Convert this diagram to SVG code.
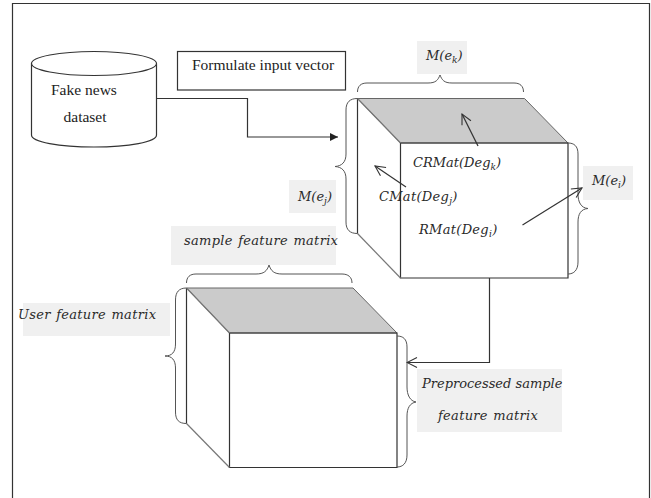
<svg xmlns="http://www.w3.org/2000/svg" width="651" height="498" viewBox="0 0 651 498">
<style>
.l{fill:none;stroke:#333;stroke-width:1.2}
.b{fill:none;stroke:#555;stroke-width:1}
.g{fill:#cbcbcb;stroke:#666;stroke-width:1}
.f{fill:#fff;stroke:#333;stroke-width:1.2}
.s{fill:none;stroke:#777;stroke-width:1.2}
.p{fill:#f0f0f0}
.t{font-family:"Liberation Serif",serif;font-size:15.5px;fill:#222}
.m{font-family:"DejaVu Serif",serif;font-style:italic;font-size:13px;fill:#2a2a2a}
.w{letter-spacing:0.3px;word-spacing:1px}
.sub{font-size:9px}
</style>
<defs>
<marker id="open" markerWidth="12" markerHeight="12" refX="11" refY="6" orient="auto" markerUnits="userSpaceOnUse"><path d="M1,1 L11,6 L1,11" fill="none" stroke="#333" stroke-width="1.1"/></marker>
<marker id="solid" markerWidth="10" markerHeight="10" refX="9" refY="5" orient="auto" markerUnits="userSpaceOnUse"><path d="M1,1 L9,5 L1,9 Z" fill="#222"/></marker>
</defs>
<rect width="651" height="498" fill="#fff"/>
<path class="l" d="M12.5,498V3.5H649.5V498"/>
<g id="dataset">
<path class="f" d="M31.5,63.5V135C31.5,142 59,147 94,147S156.500,142 156.500,135V63.500"/>
<ellipse class="f" cx="94" cy="63.500" rx="62.500" ry="12"/>
<text class="t" x="51" y="95">Fake news</text>
<text class="t" x="63.500" y="122">dataset</text>
</g>
<g id="formulate">
<rect class="f" x="177.500" y="51.500" width="168" height="38.500"/>
<text class="t" x="192" y="70">Formulate input vector</text>
</g>
<g id="cube1">
<polygon class="g" points="357.500,98.500 524.500,98.500 568,143 400.500,143"/>
<path class="l" d="M357.500,98.500V233.500"/>
<path class="l" d="M400.500,143H568V278H400.500Z"/>
<path class="s" d="M357.500,233.500L400.500,278"/>
<path class="s" d="M357.500,98.500L400.500,143"/>
<path class="b" d="M357.500,92C357.500,86 361,83 367,83H428C436,83 438,80 440,75C442,80 444,83 452,83H514C520,83 523.500,86 523.500,92"/>
<path class="b" d="M357.500,98.500C350,98.500 346,102 346,110V154C346,162 342,166 335,166.500C342,167 346,171 346,179V222C346,230 350,233.500 357.500,233.500"/>
<path class="b" d="M568,143C574,143 578,146 578,154V194C578,202 581,208 588,208.500C581,209 578,214 578,222V262C578,270 574,274 568,274"/>
</g>
<g id="cube2">
<polygon class="g" points="186.500,288 353,288 397,333 229.500,333"/>
<path class="l" d="M186.500,288V423.500"/>
<path class="l" d="M229.500,333H397V467.500H229.500Z"/>
<path class="s" d="M186.500,423.500L229.500,467.500"/>
<path class="s" d="M186.500,288L229.500,333"/>
<path class="b" d="M186.500,283C186.500,277 190,274 196,274H256C264,274 267,271 269,265C271,271 274,274 282,274H342C348,274 352,277 352,283"/>
<path class="b" d="M186.500,288C179,288 175.500,292 175.500,300V344C175.500,352 172,356 165,356C172,356 175.500,360 175.500,368V412C175.500,420 179,423.500 186.500,423.500"/>
<path class="b" d="M397,336C403,336 407,339 407,347V387C407,395 410,401 416,402C410,403 407,408 407,416V455C407,463 403,467 397,467"/>
</g>
<g id="labels">
<rect class="p" x="417" y="41" width="50" height="33"/>
<text class="m" x="426" y="60">M(e<tspan class="sub" dy="3">k</tspan><tspan dy="-3">)</tspan></text>
<rect class="p" x="289" y="180" width="47" height="33"/>
<text class="m" x="298" y="201">M(e<tspan class="sub" dy="3">j</tspan><tspan dy="-3">)</tspan></text>
<rect class="p" x="583" y="166" width="50" height="34"/>
<text class="m" x="592" y="185">M(e<tspan class="sub" dy="3">i</tspan><tspan dy="-3">)</tspan></text>
<rect class="p" x="171" y="226" width="165" height="39"/>
<text class="m w" x="184" y="245">sample feature matrix</text>
<rect class="p" x="23" y="303" width="147" height="33"/>
<text class="m w" x="18" y="319">User feature matrix</text>
<rect class="p" x="417" y="369" width="145" height="63"/>
<text class="m" x="422" y="388">Preprocessed sample</text>
<text class="m w" x="438" y="420">feature matrix</text>
<text class="m" x="413" y="167">CRMat(Deg<tspan class="sub" dy="3">k</tspan><tspan dy="-3">)</tspan></text>
<text class="m w" x="379" y="201">CMat(Deg<tspan class="sub" dy="3">j</tspan><tspan dy="-3">)</tspan></text>
<text class="m w" x="419" y="234">RMat(Deg<tspan class="sub" dy="3">i</tspan><tspan dy="-3">)</tspan></text>
</g>
<g id="connectors">
<path class="l" d="M156.500,98.500H247.500V137H338" marker-end="url(#solid)"/>
<path class="l" d="M489.500,278V362.500H407" marker-end="url(#open)"/>
<path class="l" d="M478,146L462,114" marker-end="url(#open)"/>
<path class="l" d="M406,187L375,166" marker-end="url(#open)"/>
<path class="l" d="M522.500,225L582,188" marker-end="url(#open)"/>
</g>
</svg>
